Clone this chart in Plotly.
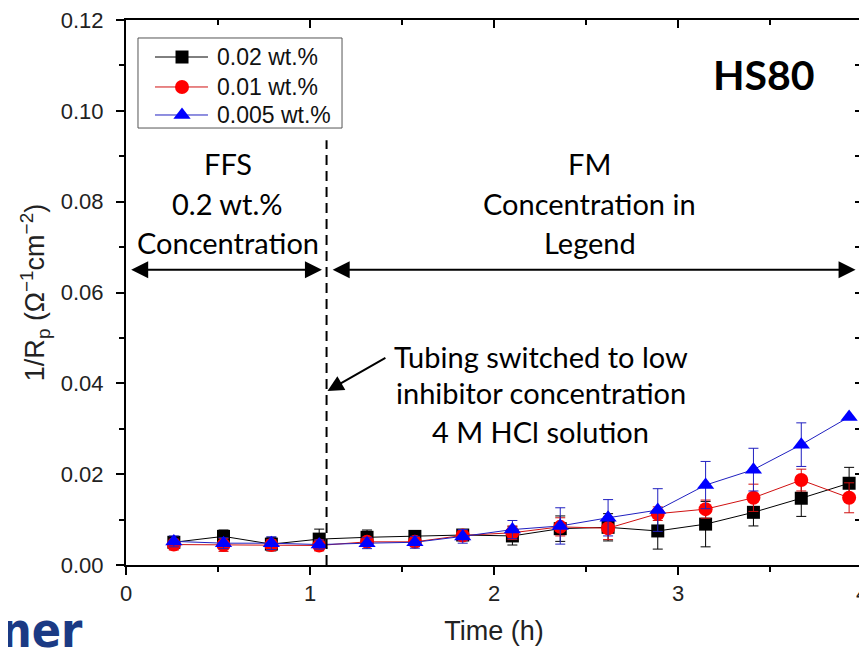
import plotly.graph_objects as go

# ---------------- data ----------------
time_h = [0.26, 0.53, 0.79, 1.05, 1.31, 1.57, 1.83, 2.10, 2.36, 2.62, 2.89, 3.15, 3.41, 3.67, 3.93]

y_002 = [0.0050, 0.0063, 0.0046, 0.0057, 0.0061, 0.0063, 0.0066, 0.0064, 0.0080, 0.0083, 0.0075, 0.0090, 0.0116, 0.0147, 0.0180]
e_002 = [0.0010, 0.0014, 0.0015, 0.0022, 0.0016, 0.0012, 0.0010, 0.0020, 0.0028, 0.0030, 0.0040, 0.0050, 0.0030, 0.0040, 0.0035]

y_001 = [0.0045, 0.0044, 0.0044, 0.0043, 0.0051, 0.0051, 0.0065, 0.0071, 0.0084, 0.0081, 0.0113, 0.0123, 0.0148, 0.0187, 0.0148]
e_001 = [0.0012, 0.0014, 0.0012, 0.0012, 0.0010, 0.0010, 0.0010, 0.0015, 0.0020, 0.0025, 0.0015, 0.0020, 0.0030, 0.0024, 0.0033]

y_0005 = [0.0052, 0.0048, 0.0048, 0.0045, 0.0048, 0.0050, 0.0063, 0.0078, 0.0086, 0.0104, 0.0121, 0.0176, 0.0210, 0.0265, 0.0326]
e_0005 = [0.0012, 0.0012, 0.0014, 0.0010, 0.0012, 0.0013, 0.0015, 0.0020, 0.0040, 0.0040, 0.0047, 0.0052, 0.0047, 0.0048, 0.0000]

series_names = ["0.02 wt.%", "0.01 wt.%", "0.005 wt.%"]

x_ticks = [0, 1, 2, 3, 4]
y_ticks = [0.00, 0.02, 0.04, 0.06, 0.08, 0.10, 0.12]
y_tick_text = ["0.00", "0.02", "0.04", "0.06", "0.08", "0.10", "0.12"]

switch_time = 1.09
region_arrow_y = 0.065

# ---------------- figure ----------------
# the page body has an 8px margin, so the figure is 8px smaller than the window
fig = go.Figure()

styles = [
    dict(color="#000000", line="#000000", symbol="square", size=13),
    dict(color="#ff0000", line="#d01010", symbol="circle", size=14),
    dict(color="#0000ff", line="#2020c0", symbol="triangle-up", size=15),
]
for name, ys, es, st in zip(series_names, [y_002, y_001, y_0005], [e_002, e_001, e_0005], styles):
    fig.add_trace(go.Scatter(
        x=time_h, y=ys, name=name, mode="lines+markers", showlegend=False,
        line=dict(color=st["line"], width=1),
        marker=dict(color=st["color"], symbol=st["symbol"], size=st["size"]),
        error_y=dict(type="data", array=es, visible=True, color=st["line"], thickness=1, width=5),
    ))

# dummy trace for mirrored (inside-tick) axes
fig.add_trace(go.Scatter(x=[None], y=[None], xaxis="x2", yaxis="y2", showlegend=False, hoverinfo="skip"))

# ---- legend drawn in plot-fraction coordinates (x3/y3 span the plot area 0..1) ----
leg_box = dict(x0=0.0163, x1=0.2935, y0=0.8018, y1=0.967)
leg_rows_y = [0.9321, 0.8771, 0.8257]
leg_line_x = (0.0394, 0.1114)
leg_marker_x = 0.0761
leg_text_x = 0.1209

fig.add_shape(type="rect", xref="paper", yref="paper", **leg_box,
              line=dict(color="#555555", width=1), fillcolor="white", layer="below")
for name, ry, st in zip(series_names, leg_rows_y, styles):
    fig.add_shape(type="line", xref="paper", yref="paper", x0=leg_line_x[0], x1=leg_line_x[1], y0=ry, y1=ry,
                  line=dict(color=st["line"], width=1), layer="below")
    fig.add_trace(go.Scatter(x=[leg_marker_x], y=[ry], xaxis="x3", yaxis="y3", mode="markers",
                             marker=dict(color=st["color"], symbol=st["symbol"], size=st["size"]),
                             showlegend=False, hoverinfo="skip", cliponaxis=False))
    fig.add_annotation(x=leg_text_x, y=ry, xref="paper", yref="paper", text=name, showarrow=False,
                       xanchor="left", yanchor="middle",
                       font=dict(family="Liberation Sans, Arial", size=23, color="#111111"))

axis_font = dict(family="Liberation Sans, Arial", size=22, color="#222222")
title_font = dict(family="Liberation Sans, Arial", size=27, color="#222222")

fig.update_layout(
    width=859, height=642,
    margin=dict(l=118, r=5, t=12, b=85),
    paper_bgcolor="white", plot_bgcolor="white",
    showlegend=False,
    xaxis=dict(
        range=[0, 4], tickvals=x_ticks, ticks="outside", ticklen=8, tickwidth=1.5, tickcolor="black",
        showline=True, linecolor="black", linewidth=2, showgrid=False, zeroline=False, mirror=True,
        minor=dict(dtick=0.5, tick0=0, ticks="outside", ticklen=5, tickwidth=1.5, tickcolor="black"),
        tickfont=axis_font, ticklabeloverflow="allow", automargin=False,
        title=dict(text="Time (h)", font=title_font, standoff=16),
    ),
    yaxis=dict(
        range=[0, 0.12], tickvals=y_ticks, ticktext=y_tick_text, ticks="outside", ticklen=8, tickwidth=1.5,
        tickcolor="black", showline=True, linecolor="black", linewidth=2, showgrid=False, zeroline=False,
        mirror=True, automargin=False,
        minor=dict(dtick=0.01, tick0=0, ticks="outside", ticklen=5, tickwidth=1.5, tickcolor="black"),
        tickfont=axis_font, ticklabeloverflow="allow", ticklabelstandoff=8,
        title=dict(text="1/R<sub>p</sub> (Ω<sup>−1</sup>cm<sup>−2</sup>)", font=title_font, standoff=8),
    ),
    xaxis2=dict(
        range=[0, 4], overlaying="x", side="top", anchor="y", tickvals=x_ticks, ticks="inside", ticklen=8,
        tickwidth=1.5, tickcolor="black", showticklabels=False, showline=True, linecolor="black", linewidth=2,
        showgrid=False, zeroline=False, automargin=False,
        minor=dict(dtick=0.5, tick0=0, ticks="inside", ticklen=5, tickwidth=1.5, tickcolor="black"),
    ),
    yaxis2=dict(
        range=[0, 0.12], overlaying="y", side="right", anchor="x", dtick=0.01, tick0=0, ticks="inside",
        ticklen=7, tickwidth=1.5, tickcolor="black", showticklabels=False, showline=True, linecolor="black",
        linewidth=2, showgrid=False, zeroline=False, automargin=False,
    ),
    xaxis3=dict(range=[0, 1], overlaying="x", anchor="y3", visible=False, automargin=False),
    yaxis3=dict(range=[0, 1], overlaying="y", anchor="x3", visible=False, automargin=False),
)

# dashed switch line
fig.add_shape(type="line", x0=switch_time, x1=switch_time, y0=0, y1=0.0935, xref="x", yref="y",
              line=dict(color="black", width=2, dash="10px,6px"))

# region arrows (double-headed)
for x_start, x_end in [(0.02, 1.065), (1.115, 3.965)]:
    fig.add_annotation(x=x_end, y=region_arrow_y, ax=x_start, ay=region_arrow_y, xref="x", yref="y",
                       axref="x", ayref="y", text="", showarrow=True, arrowhead=2, arrowside="end+start",
                       arrowsize=1.7, arrowwidth=2, arrowcolor="black")

txt_font = dict(family="Lato, Carlito, Calibri", size=29, color="black")
for label, x, y in [("FFS", 0.553, 0.0885), ("0.2 wt.%", 0.553, 0.0797), ("Concentration", 0.553, 0.0711),
                    ("FM", 2.52, 0.0885), ("Concentration in", 2.52, 0.0797), ("Legend", 2.52, 0.0711),
                    ("Tubing switched to low", 2.255, 0.0460), ("inhibitor concentration", 2.255, 0.0379),
                    ("4 M HCl solution", 2.255, 0.0293)]:
    fig.add_annotation(x=x, y=y, xref="x", yref="y", text=label, showarrow=False, font=txt_font,
                       xanchor="center", yanchor="middle")

# pointer arrow
fig.add_annotation(x=1.095, y=0.0383, ax=1.418, ay=0.0458, xref="x", yref="y", axref="x", ayref="y",
                   text="", showarrow=True, arrowhead=2, arrowsize=1.6, arrowwidth=2, arrowcolor="black")

fig.add_annotation(x=3.47, y=0.108, xref="x", yref="y", text="<b>HS80</b>", showarrow=False,
                   font=dict(family="Lato, Carlito, Calibri", size=41, color="black"))

# partial logo at bottom-left
fig.add_annotation(x=-0.172, y=-0.0642, xref="paper", yref="paper", text="<b>ner</b>", showarrow=False,
                   xanchor="left", yanchor="top",
                   font=dict(family="DejaVu Sans Condensed, DejaVu Sans", size=48, color="#1b3a84"))

fig.write_html("out.html")
